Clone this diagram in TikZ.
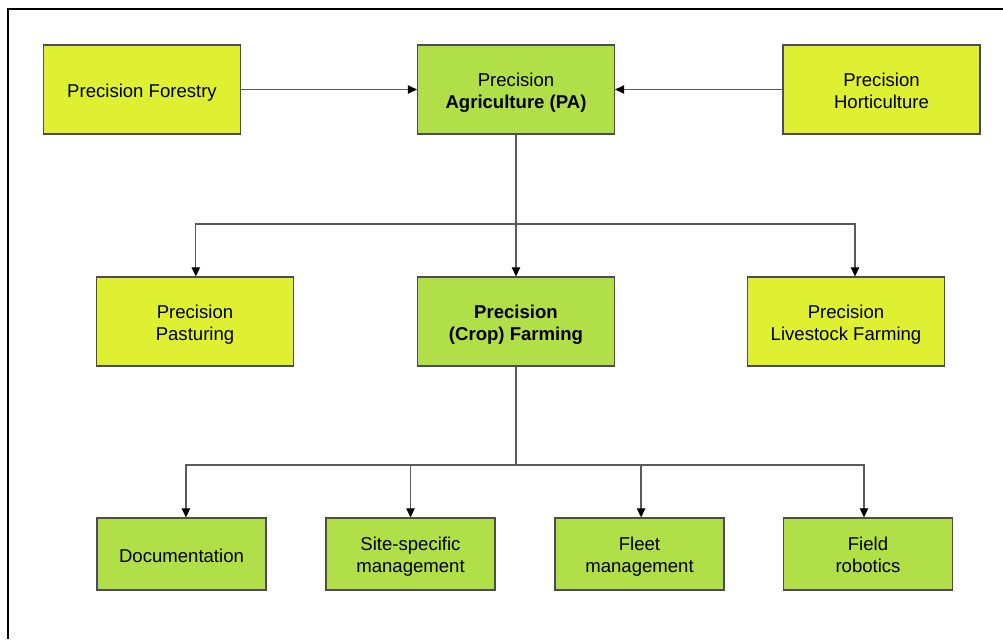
\documentclass[tikz,border=0pt]{standalone}
\usepackage{fontspec}
\setmainfont{Liberation Sans}
\usetikzlibrary{arrows.meta,positioning}
\definecolor{paYellow}{HTML}{DFF032}
\definecolor{paGreen}{HTML}{B1DF48}
\definecolor{boxline}{HTML}{4D4D4D}
\definecolor{linkgray}{HTML}{5A5A5A}
\tikzset{
  every picture/.style={line join=miter, >={Triangle[length=6.5pt,width=6pt,color=black]}},
  box/.style={draw=boxline, line width=0.8pt, align=center, inner sep=0pt,
    font=\fontsize{13.2}{15.8}\selectfont, text height=15pt, text depth=3pt},
  twolines/.style={text height=29.8pt},
  bigbox/.style={box, minimum width=4.925cm, minimum height=2.225cm},
  smallbox/.style={box, minimum width=4.225cm, minimum height=1.8cm},
  link/.style={draw=linkgray, line width=0.9pt},
}

\begin{document}
\begin{tikzpicture}[x=0.025cm,y=-0.025cm]
\useasboundingbox (0,0) rectangle (1003,639);
\draw[line width=1.4pt] (8,639) -- (8,9) -- (1003,9);
\node[bigbox,fill=paYellow] (forest) at (142,89.5) {Precision Forestry};
\node[bigbox,twolines,fill=paGreen] (pa) at (516,89.5) {Precision\\\textbf{Agriculture (PA)}};
\node[bigbox,twolines,fill=paYellow] (hort) at (881.5,89.5) {Precision\\Horticulture};
\node[bigbox,twolines,fill=paYellow] (past) at (195,321.5) {Precision\\Pasturing};
\node[bigbox,twolines,fill=paGreen] (crop) at (516,321.5) {\textbf{Precision}\\\textbf{(Crop) Farming}};
\node[bigbox,twolines,fill=paYellow] (live) at (846,321.5) {Precision\\Livestock Farming};
\node[smallbox,fill=paGreen] (doc) at (181.5,554) {Documentation};
\node[smallbox,twolines,fill=paGreen] (site) at (410.5,554) {Site-specific\\management};
\node[smallbox,twolines,fill=paGreen] (fleet) at (639.5,554) {Fleet\\management};
\node[smallbox,twolines,fill=paGreen] (robot) at (868,554) {Field\\robotics};
\coordinate (bar1) at (516,224);
\coordinate (bar2) at (516,465);
\draw[link,->] (forest) -- (pa);
\draw[link,->] (hort) -- (pa);
\draw[link,->] (pa) -- (crop);
\draw[link,->] (bar1) -| ([xshift=0.02cm]past.north);
\draw[link,->] (bar1) -| ([xshift=0.225cm]live.north);
\draw[link] (crop) -- (bar2);
\draw[link,->] (bar2) -| ([xshift=0.11cm]doc.north);
\draw[link,->] (bar2) -| (site.north);
\draw[link,->] (bar2) -| ([xshift=0.04cm]fleet.north);
\draw[link,->] (bar2) -| ([xshift=-0.1cm]robot.north);
\end{tikzpicture}
\end{document}
